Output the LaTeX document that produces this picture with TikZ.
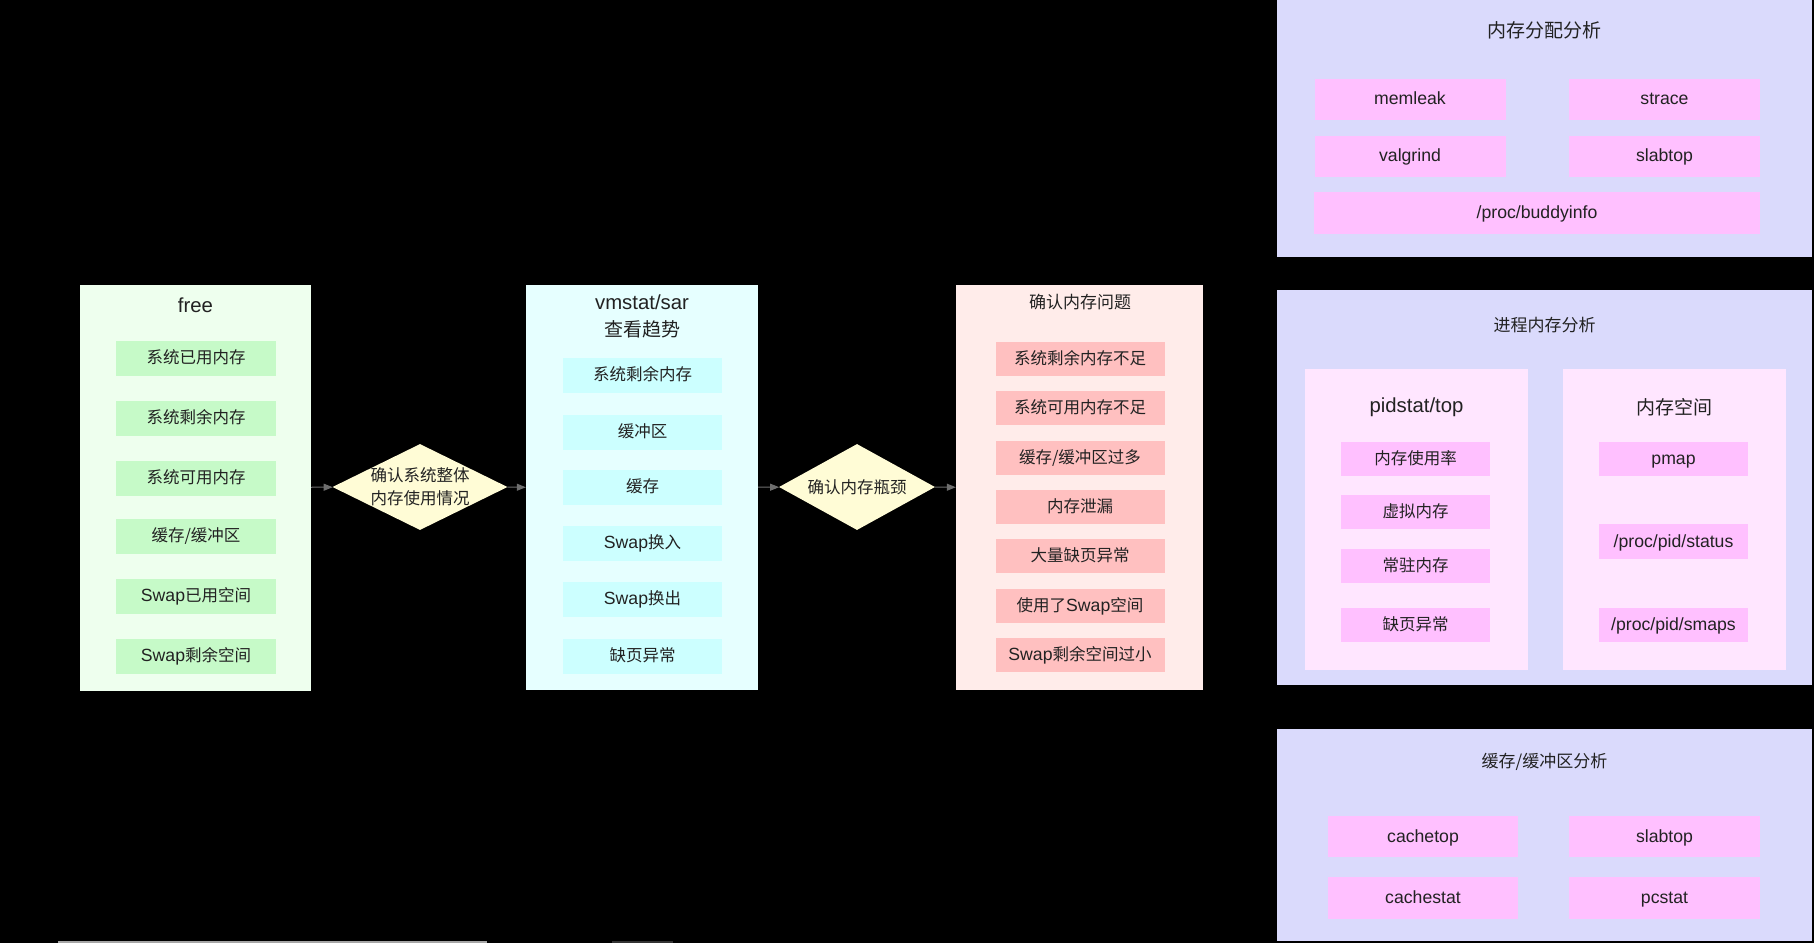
\documentclass[tikz,border=0pt]{standalone}
\usepackage{fontspec}
\setmainfont{Noto Sans CJK SC}
\newfontfamily\latin[Scale=1.07]{Liberation Sans}
\usepackage{xcolor}
\usepackage{tikz}
\usetikzlibrary{shapes.geometric, arrows.meta, positioning}
\definecolor{freebg}{RGB}{238,255,238}
\definecolor{freeitem}{RGB}{198,250,200}
\definecolor{vmbg}{RGB}{230,255,255}
\definecolor{vmitem}{RGB}{204,255,255}
\definecolor{probbg}{RGB}{255,236,234}
\definecolor{probitem}{RGB}{255,192,192}
\definecolor{panelbg}{RGB}{218,218,252}
\definecolor{toolitem}{RGB}{255,192,255}
\definecolor{subbg}{RGB}{255,230,255}
\definecolor{checkbg}{RGB}{255,252,214}
\definecolor{flowgray}{RGB}{110,110,110}
\definecolor{inkgray}{RGB}{34,34,34}

\begin{document}
\begin{tikzpicture}[
          x=1pt, y=-1pt,
          groupbox/.style={rectangle, inner sep=0pt},
          titletext/.style={text=inkgray, align=center, font=\fontsize{19}{27}\selectfont},
          paneltitle/.style={text=inkgray, font=\fontsize{17}{20}\selectfont},
          itembox/.style={rectangle, inner sep=0pt, text height=14pt, text depth=2.5pt, text=inkgray, font=\fontsize{16.5}{20}\selectfont},
          freebox/.style={itembox, fill=freeitem, minimum width=160pt, minimum height=35pt},
          vmbox/.style={itembox, fill=vmitem, minimum width=159pt, minimum height=35pt},
          probbox/.style={itembox, fill=probitem, minimum width=169pt, minimum height=34pt},
          toolbox/.style={itembox, fill=toolitem, minimum width=191pt, minimum height=41pt},
          procbox/.style={itembox, fill=toolitem, minimum width=149pt, minimum height=34pt},
          checknode/.style={diamond, fill=checkbg, inner sep=-6pt, shape aspect=2, align=center, text=inkgray, font=\fontsize{16.5}{23}\selectfont},
          flow/.style={-{Triangle[length=9pt, width=7pt]}, line width=1pt, draw=flowgray}
        ]
          % Background
          \fill[black] (0,0) rectangle (1814,943);
          \draw[gray!70, line width=2pt] (58,941.5) -- (487,941.5);
          \draw[gray!40!black, line width=2pt] (612,941.5) -- (673,941.5);

          % free
          \node[groupbox, fill=freebg, minimum width=231pt, minimum height=406pt] (free) at (195.5, 487.5) {};
          \node[titletext] (freet) at (195.5, 305) {\latin free};
          \node[freebox] (fr1) at (196, 358) {系统已用内存};
          \node[freebox] (fr2) at (196, 418) {系统剩余内存};
          \node[freebox] (fr3) at (196, 478) {系统可用内存};
          \node[freebox] (fr4) at (196, 536) {缓存/缓冲区};
          \node[freebox] (fr5) at (196, 596) {{\latin Swap}已用空间};
          \node[freebox] (fr6) at (196, 656) {{\latin Swap}剩余空间};

          % First check
          \node[checknode, minimum width=175pt, minimum height=86pt] (chk1) at (420, 487) {确认系统整体\\内存使用情况};

          % vmstat/sar
          \node[groupbox, fill=vmbg, minimum width=232pt, minimum height=405pt] (vm) at (642, 487.5) {};
          \node[titletext] (vmt) at (642, 316.5) {{\latin vmstat/sar}\\查看趋势};
          \node[vmbox] (vm1) at (642.5, 375) {系统剩余内存};
          \node[vmbox] (vm2) at (642.5, 432) {缓冲区};
          \node[vmbox] (vm3) at (642.5, 487) {缓存};
          \node[vmbox] (vm4) at (642.5, 543) {{\latin Swap}换入};
          \node[vmbox] (vm5) at (642.5, 599) {{\latin Swap}换出};
          \node[vmbox] (vm6) at (642.5, 656) {缺页异常};

          % Second check
          \node[checknode, minimum width=156pt, minimum height=86pt] (chk2) at (857, 487) {确认内存瓶颈};

          % Memory problems
          \node[groupbox, fill=probbg, minimum width=247pt, minimum height=405pt] (prob) at (1079.5, 487.5) {};
          \node[paneltitle] (probt) at (1080, 302) {确认内存问题};
          \node[probbox] (pr1) at (1080, 359) {系统剩余内存不足};
          \node[probbox] (pr2) at (1080, 408) {系统可用内存不足};
          \node[probbox] (pr3) at (1080, 457.5) {缓存/缓冲区过多};
          \node[probbox] (pr4) at (1080, 507) {内存泄漏};
          \node[probbox] (pr5) at (1080, 556) {大量缺页异常};
          \node[probbox] (pr6) at (1080, 605.5) {使用了{\latin Swap}空间};
          \node[probbox] (pr7) at (1080, 655) {{\latin Swap}剩余空间过小};

          % Connections
          \draw[flow] (free) -- (chk1);
          \draw[flow] (chk1) -- (vm);
          \draw[flow] (vm) -- (chk2);
          \draw[flow] (chk2) -- (prob);

          % Allocation analysis
          \node[groupbox, fill=panelbg, minimum width=535pt, minimum height=257pt] (alloc) at (1544.5, 128.5) {};
          \node[titletext] (alloct) at (1544.5, 30) {内存分配分析};
          \node[toolbox] (memleak) at (1410, 99) {\latin memleak};
          \node[toolbox] (strace) at (1664.5, 99) {\latin strace};
          \node[toolbox] (valgrind) at (1410, 156) {\latin valgrind};
          \node[toolbox] (slabtopa) at (1664.5, 156) {\latin slabtop};
          \node[toolbox, minimum width=446pt, minimum height=42pt] (buddy) at (1537, 213) {\latin /proc/buddyinfo};

          % Process memory analysis
          \node[groupbox, fill=panelbg, minimum width=535pt, minimum height=395pt] (procmem) at (1544.5, 487.5) {};
          \node[paneltitle] (procmemt) at (1544.5, 325) {进程内存分析};
          \node[groupbox, fill=subbg, minimum width=223pt, minimum height=301pt] (pidstat) at (1416.5, 519.5) {};
          \node[groupbox, fill=subbg, minimum width=223pt, minimum height=301pt] (space) at (1674.5, 519.5) {};
          \node[titletext] (pidstatt) at (1416.5, 407) {\latin pidstat/top};
          \node[titletext] (spacet) at (1674.5, 407) {内存空间};
          \node[procbox] (ps1) at (1415.5, 459) {内存使用率};
          \node[procbox] (ps2) at (1415.5, 512) {虚拟内存};
          \node[procbox] (ps3) at (1415.5, 565.5) {常驻内存};
          \node[procbox] (ps4) at (1415.5, 625) {缺页异常};
          \node[procbox] (sp1) at (1673.5, 459) {\latin pmap};
          \node[procbox, minimum height=35pt] (sp2) at (1673.5, 541.5) {\latin /proc/pid/status};
          \node[procbox] (sp3) at (1673.5, 625) {\latin /proc/pid/smaps};

          % Cache/buffer analysis
          \node[groupbox, fill=panelbg, minimum width=535pt, minimum height=212pt] (cache) at (1544.5, 835) {};
          \node[paneltitle] (cachet) at (1544.5, 762) {缓存/缓冲区分析};
          \node[toolbox, minimum width=190pt] (cachetop) at (1423, 836.5) {\latin cachetop};
          \node[toolbox] (slabtopc) at (1664.5, 836.5) {\latin slabtop};
          \node[toolbox, minimum width=190pt, minimum height=42pt] (cachestat) at (1423, 898) {\latin cachestat};
          \node[toolbox, minimum height=42pt] (pcstat) at (1664.5, 898) {\latin pcstat};
        \end{tikzpicture}
\end{document}
